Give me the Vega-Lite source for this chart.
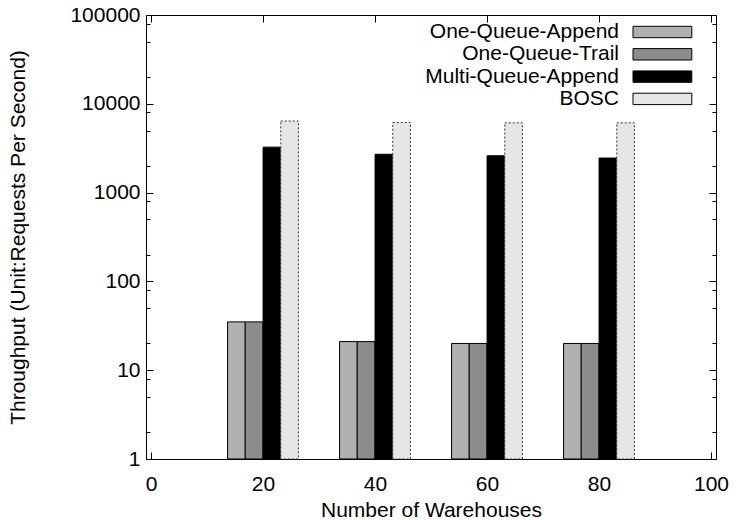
{
  "$schema": "https://vega.github.io/schema/vega-lite/v6.json",
  "width": 570,
  "height": 444,
  "autosize": {"type": "none"},
  "padding": {"left": 146, "top": 15, "right": 23, "bottom": 61},
  "background": "white",
  "config": {
    "font": "Liberation Sans",
    "view": {"stroke": "black", "strokeWidth": 1},
    "axis": {"domain": false, "grid": false, "tickColor": "black", "labelColor": "black", "titleColor": "black", "labelFontSize": 21, "titleFontSize": 21, "titleFontWeight": "normal", "tickWidth": 1}
  },
  "data": {
    "values": [
      {"warehouses": 20, "series": "One-Queue-Append", "throughput": 35},
      {"warehouses": 40, "series": "One-Queue-Append", "throughput": 21},
      {"warehouses": 60, "series": "One-Queue-Append", "throughput": 20},
      {"warehouses": 80, "series": "One-Queue-Append", "throughput": 20},
      {"warehouses": 20, "series": "One-Queue-Trail", "throughput": 35},
      {"warehouses": 40, "series": "One-Queue-Trail", "throughput": 21},
      {"warehouses": 60, "series": "One-Queue-Trail", "throughput": 20},
      {"warehouses": 80, "series": "One-Queue-Trail", "throughput": 20},
      {"warehouses": 20, "series": "Multi-Queue-Append", "throughput": 3250},
      {"warehouses": 40, "series": "Multi-Queue-Append", "throughput": 2700},
      {"warehouses": 60, "series": "Multi-Queue-Append", "throughput": 2600},
      {"warehouses": 80, "series": "Multi-Queue-Append", "throughput": 2450},
      {"warehouses": 20, "series": "BOSC", "throughput": 6400},
      {"warehouses": 40, "series": "BOSC", "throughput": 6150},
      {"warehouses": 60, "series": "BOSC", "throughput": 6100},
      {"warehouses": 80, "series": "BOSC", "throughput": 6100}
    ]
  },
  "layer": [
    {
      "transform": [{"filter": "datum.series === 'One-Queue-Append'"}],
      "mark": {"type": "bar", "width": 17.7, "xOffset": -26.6, "stroke": "black", "strokeWidth": 1},
      "encoding": {
        "x": {"field": "warehouses", "type": "quantitative", "scale": {"domain": [0, 100], "nice": false},
          "axis": {"orient": "bottom", "values": [0, 20, 40, 60, 80, 100], "format": "d", "title": "Number of Warehouses", "tickSize": -7, "labelPadding": 21, "labelFlush": false, "titleX": 285, "titleY": 51, "titleBaseline": "middle", "titleAlign": "center"}},
        "y": {"field": "throughput", "type": "quantitative", "scale": {"type": "log", "domain": [1, 100000], "nice": false},
          "axis": {"orient": "left", "values": [1, 2, 5, 8, 10, 20, 50, 80, 100, 200, 500, 800, 1000, 2000, 5000, 8000, 10000, 20000, 50000, 80000, 100000],
            "labelExpr": "indexof([1,10,100,1000,10000,100000], datum.value) >= 0 ? format(datum.value, 'd') : ''",
            "tickSize": {"condition": {"test": "indexof([1,10,100,1000,10000,100000], datum.value) >= 0", "value": -7}, "value": -4},
            "labelPadding": 13, "labelFlush": false, "labelOverlap": false,
            "title": "Throughput (Unit:Requests Per Second)", "titleX": -128, "titleY": 222, "titleBaseline": "middle", "titleAlign": "center", "titleAngle": -90}},
        "y2": {"datum": 1},
        "fill": {"field": "series", "type": "nominal",
          "scale": {"domain": ["One-Queue-Append", "One-Queue-Trail", "Multi-Queue-Append", "BOSC"], "range": ["#b0b0b0", "#8c8c8c", "#000000", "#e6e6e6"]},
          "legend": {"orient": "none", "legendX": 505.9, "legendY": 6.5, "title": null, "padding": 0, "labelAlign": "right", "labelOffset": -53.9, "labelFontSize": 21, "labelLimit": 0, "labelColor": "black", "rowPadding": 0.3, "symbolType": "M-4.9,-0.95L4.9,-0.95L4.9,0.95L-4.9,0.95Z", "symbolSize": 144, "symbolStrokeColor": "black", "symbolStrokeWidth": 1}}
      }
    },
    {
      "transform": [{"filter": "datum.series === 'One-Queue-Trail'"}],
      "mark": {"type": "bar", "width": 17.7, "xOffset": -8.9, "stroke": "black", "strokeWidth": 1},
      "encoding": {
        "x": {"field": "warehouses", "type": "quantitative", "scale": {"domain": [0, 100], "nice": false}, "axis": null},
        "y": {"field": "throughput", "type": "quantitative", "scale": {"type": "log", "domain": [1, 100000], "nice": false}, "axis": null},
        "y2": {"datum": 1},
        "fill": {"field": "series", "type": "nominal",
          "scale": {"domain": ["One-Queue-Append", "One-Queue-Trail", "Multi-Queue-Append", "BOSC"], "range": ["#b0b0b0", "#8c8c8c", "#000000", "#e6e6e6"]},
          "legend": {"orient": "none", "legendX": 505.9, "legendY": 6.5, "title": null, "padding": 0, "labelAlign": "right", "labelOffset": -53.9, "labelFontSize": 21, "labelLimit": 0, "labelColor": "black", "rowPadding": 0.3, "symbolType": "M-4.9,-0.95L4.9,-0.95L4.9,0.95L-4.9,0.95Z", "symbolSize": 144, "symbolStrokeColor": "black", "symbolStrokeWidth": 1}}
      }
    },
    {
      "transform": [{"filter": "datum.series === 'Multi-Queue-Append'"}],
      "mark": {"type": "bar", "width": 17.7, "xOffset": 8.9, "stroke": "black", "strokeWidth": 1},
      "encoding": {
        "x": {"field": "warehouses", "type": "quantitative", "scale": {"domain": [0, 100], "nice": false}, "axis": null},
        "y": {"field": "throughput", "type": "quantitative", "scale": {"type": "log", "domain": [1, 100000], "nice": false}, "axis": null},
        "y2": {"datum": 1},
        "fill": {"field": "series", "type": "nominal",
          "scale": {"domain": ["One-Queue-Append", "One-Queue-Trail", "Multi-Queue-Append", "BOSC"], "range": ["#b0b0b0", "#8c8c8c", "#000000", "#e6e6e6"]},
          "legend": {"orient": "none", "legendX": 505.9, "legendY": 6.5, "title": null, "padding": 0, "labelAlign": "right", "labelOffset": -53.9, "labelFontSize": 21, "labelLimit": 0, "labelColor": "black", "rowPadding": 0.3, "symbolType": "M-4.9,-0.95L4.9,-0.95L4.9,0.95L-4.9,0.95Z", "symbolSize": 144, "symbolStrokeColor": "black", "symbolStrokeWidth": 1}}
      }
    },
    {
      "transform": [{"filter": "datum.series === 'BOSC'"}],
      "mark": {"type": "bar", "width": 17.7, "xOffset": 26.6, "stroke": "#333333", "strokeWidth": 1, "strokeDash": [2, 2]},
      "encoding": {
        "x": {"field": "warehouses", "type": "quantitative", "scale": {"domain": [0, 100], "nice": false},
          "axis": {"orient": "top", "values": [0, 20, 40, 60, 80, 100], "labels": false, "title": null, "tickSize": -7}},
        "y": {"field": "throughput", "type": "quantitative", "scale": {"type": "log", "domain": [1, 100000], "nice": false},
          "axis": {"orient": "right", "values": [1, 2, 5, 8, 10, 20, 50, 80, 100, 200, 500, 800, 1000, 2000, 5000, 8000, 10000, 20000, 50000, 80000, 100000], "labels": false, "title": null,
            "tickSize": {"condition": {"test": "indexof([1,10,100,1000,10000,100000], datum.value) >= 0", "value": -7}, "value": -4}}},
        "y2": {"datum": 1},
        "fill": {"field": "series", "type": "nominal",
          "scale": {"domain": ["One-Queue-Append", "One-Queue-Trail", "Multi-Queue-Append", "BOSC"], "range": ["#b0b0b0", "#8c8c8c", "#000000", "#e6e6e6"]},
          "legend": {"orient": "none", "legendX": 505.9, "legendY": 6.5, "title": null, "padding": 0, "labelAlign": "right", "labelOffset": -53.9, "labelFontSize": 21, "labelLimit": 0, "labelColor": "black", "rowPadding": 0.3, "symbolType": "M-4.9,-0.95L4.9,-0.95L4.9,0.95L-4.9,0.95Z", "symbolSize": 144, "symbolStrokeColor": "black", "symbolStrokeWidth": 1}}
      }
    }
  ],
  "resolve": {"axis": {"x": "independent", "y": "independent"}}
}
